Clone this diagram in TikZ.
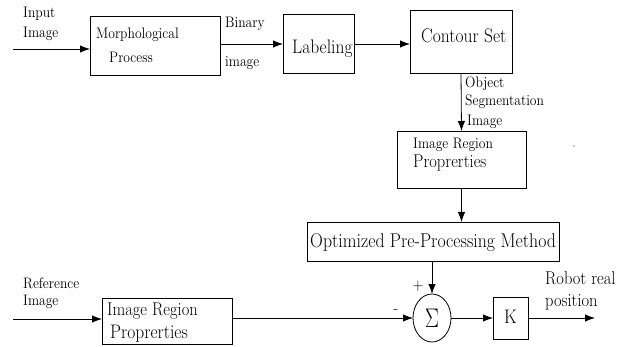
\documentclass[tikz,border=0pt]{standalone}
\usetikzlibrary{arrows.meta,shapes.geometric}
\tikzset{
  box/.style={draw, line width=0.8pt, inner sep=0pt, outer sep=0pt},
  sm/.style={font=\fontsize{13.6}{15}\selectfont, inner sep=0pt, anchor=base west, yscale=1.12, transform shape},
  bg/.style={font=\fontsize{17.5}{18}\selectfont, inner sep=0pt, anchor=base west, yscale=1.12, transform shape},
  arr/.style={line width=0.8pt, -{Latex[length=10pt,width=7.5pt]}},
}
\begin{document}
\begin{tikzpicture}[x=1pt,y=-1pt]
\useasboundingbox (0,0) rectangle (628,347);
% boxes
\node[box, minimum width=130pt, minimum height=59pt] (mp) at (155,45.5) {};
\node[box, minimum width=71pt, minimum height=59pt] (lab) at (318.5,44) {};
\node[box, minimum width=102pt, minimum height=63pt] (cs) at (461,41.5) {};
\node[box, minimum width=129pt, minimum height=57pt] (irp1) at (461.5,159.5) {};
\node[box, minimum width=252pt, minimum height=39pt] (opt) at (433,241.5) {};
\node[box, ellipse, minimum width=38pt, minimum height=48pt] (sum) at (432,318) {};
\node[box, minimum width=35pt, minimum height=42pt] (K) at (510.5,318) {};
\node[box, minimum width=130pt, minimum height=46pt] (irp2) at (167,321) {};
% texts
\node[sm] (t1) at (23,17.5) {Input};
\node[sm] (t2) at (23,38) {Image};
\node[sm] (t3) at (96,39) {Morphological};
\node[sm] (t4) at (109,63) {Process};
\node[sm] (t5) at (225,27.5) {Binary};
\node[sm] (t6) at (225,67) {image};
\node[bg] (t7) at (292,54) {Labeling};
\node[bg] (t8) at (421,43) {Contour Set};
\node[sm] (t9) at (465,87.5) {Object};
\node[sm] (t10) at (465,106) {Segmentation};
\node[sm] (t11) at (467,126) {Image};
\node[sm] (t12) at (413,149) {Image Region};
\node[bg, font=\fontsize{16.5}{18}\selectfont] (t13) at (413,168) {Proprerties};
\node[bg, font=\fontsize{17.8}{18}\selectfont] (t14) at (310,247.5) {Optimized Pre-Processing Method};
\node[font=\fontsize{21}{22}\selectfont, inner sep=0pt] (sg) at (sum.center) {\scalebox{1}[1.3]{$\Sigma$}};
\node[bg, anchor=center] (kt) at ([yshift=1pt]K.center) {K};
\node[sm, anchor=center, font=\fontsize{15}{16}\selectfont] (plus) at (418,286) {+};
\node[sm, anchor=center, font=\fontsize{15}{16}\selectfont] (minus) at (396,312) {-};
\node[bg, font=\fontsize{16.5}{18}\selectfont] (t15) at (545,284) {Robot real};
\node[bg, font=\fontsize{16.5}{18}\selectfont] (t16) at (545,306) {position};
\node[sm] (t17) at (23,288) {Reference};
\node[sm] (t18) at (23,305) {Image};
\node[bg, font=\fontsize{16.5}{18}\selectfont] (t19) at (107,315) {Image Region};
\node[bg] (t20) at (110,338) {Proprerties};
\fill (574,146) circle (0.6pt);
% connectors
\coordinate (in1) at (13,49);
\coordinate (in2) at (13,319);
\coordinate (out) at (595,318);
\draw[arr] (in1) -- (in1 -| mp.west);
\draw[arr] (mp.east |- lab.west) -- (lab.west);
\draw[arr] (lab.east) -- (lab.east -| cs.west);
\draw[arr] (cs.south) -- (irp1.north);
\draw[arr] (irp1.south) -- (irp1.south |- opt.north);
\draw[arr] (sum.north |- opt.south) -- (sum.north);
\draw[arr] (in2) -- (in2 -| irp2.west);
\draw[arr] (sum.west -| irp2.east) -- (sum.west);
\draw[arr] (sum.east) -- (K.west);
\draw[arr] (K.east) -- (out);
\end{tikzpicture}
\end{document}
